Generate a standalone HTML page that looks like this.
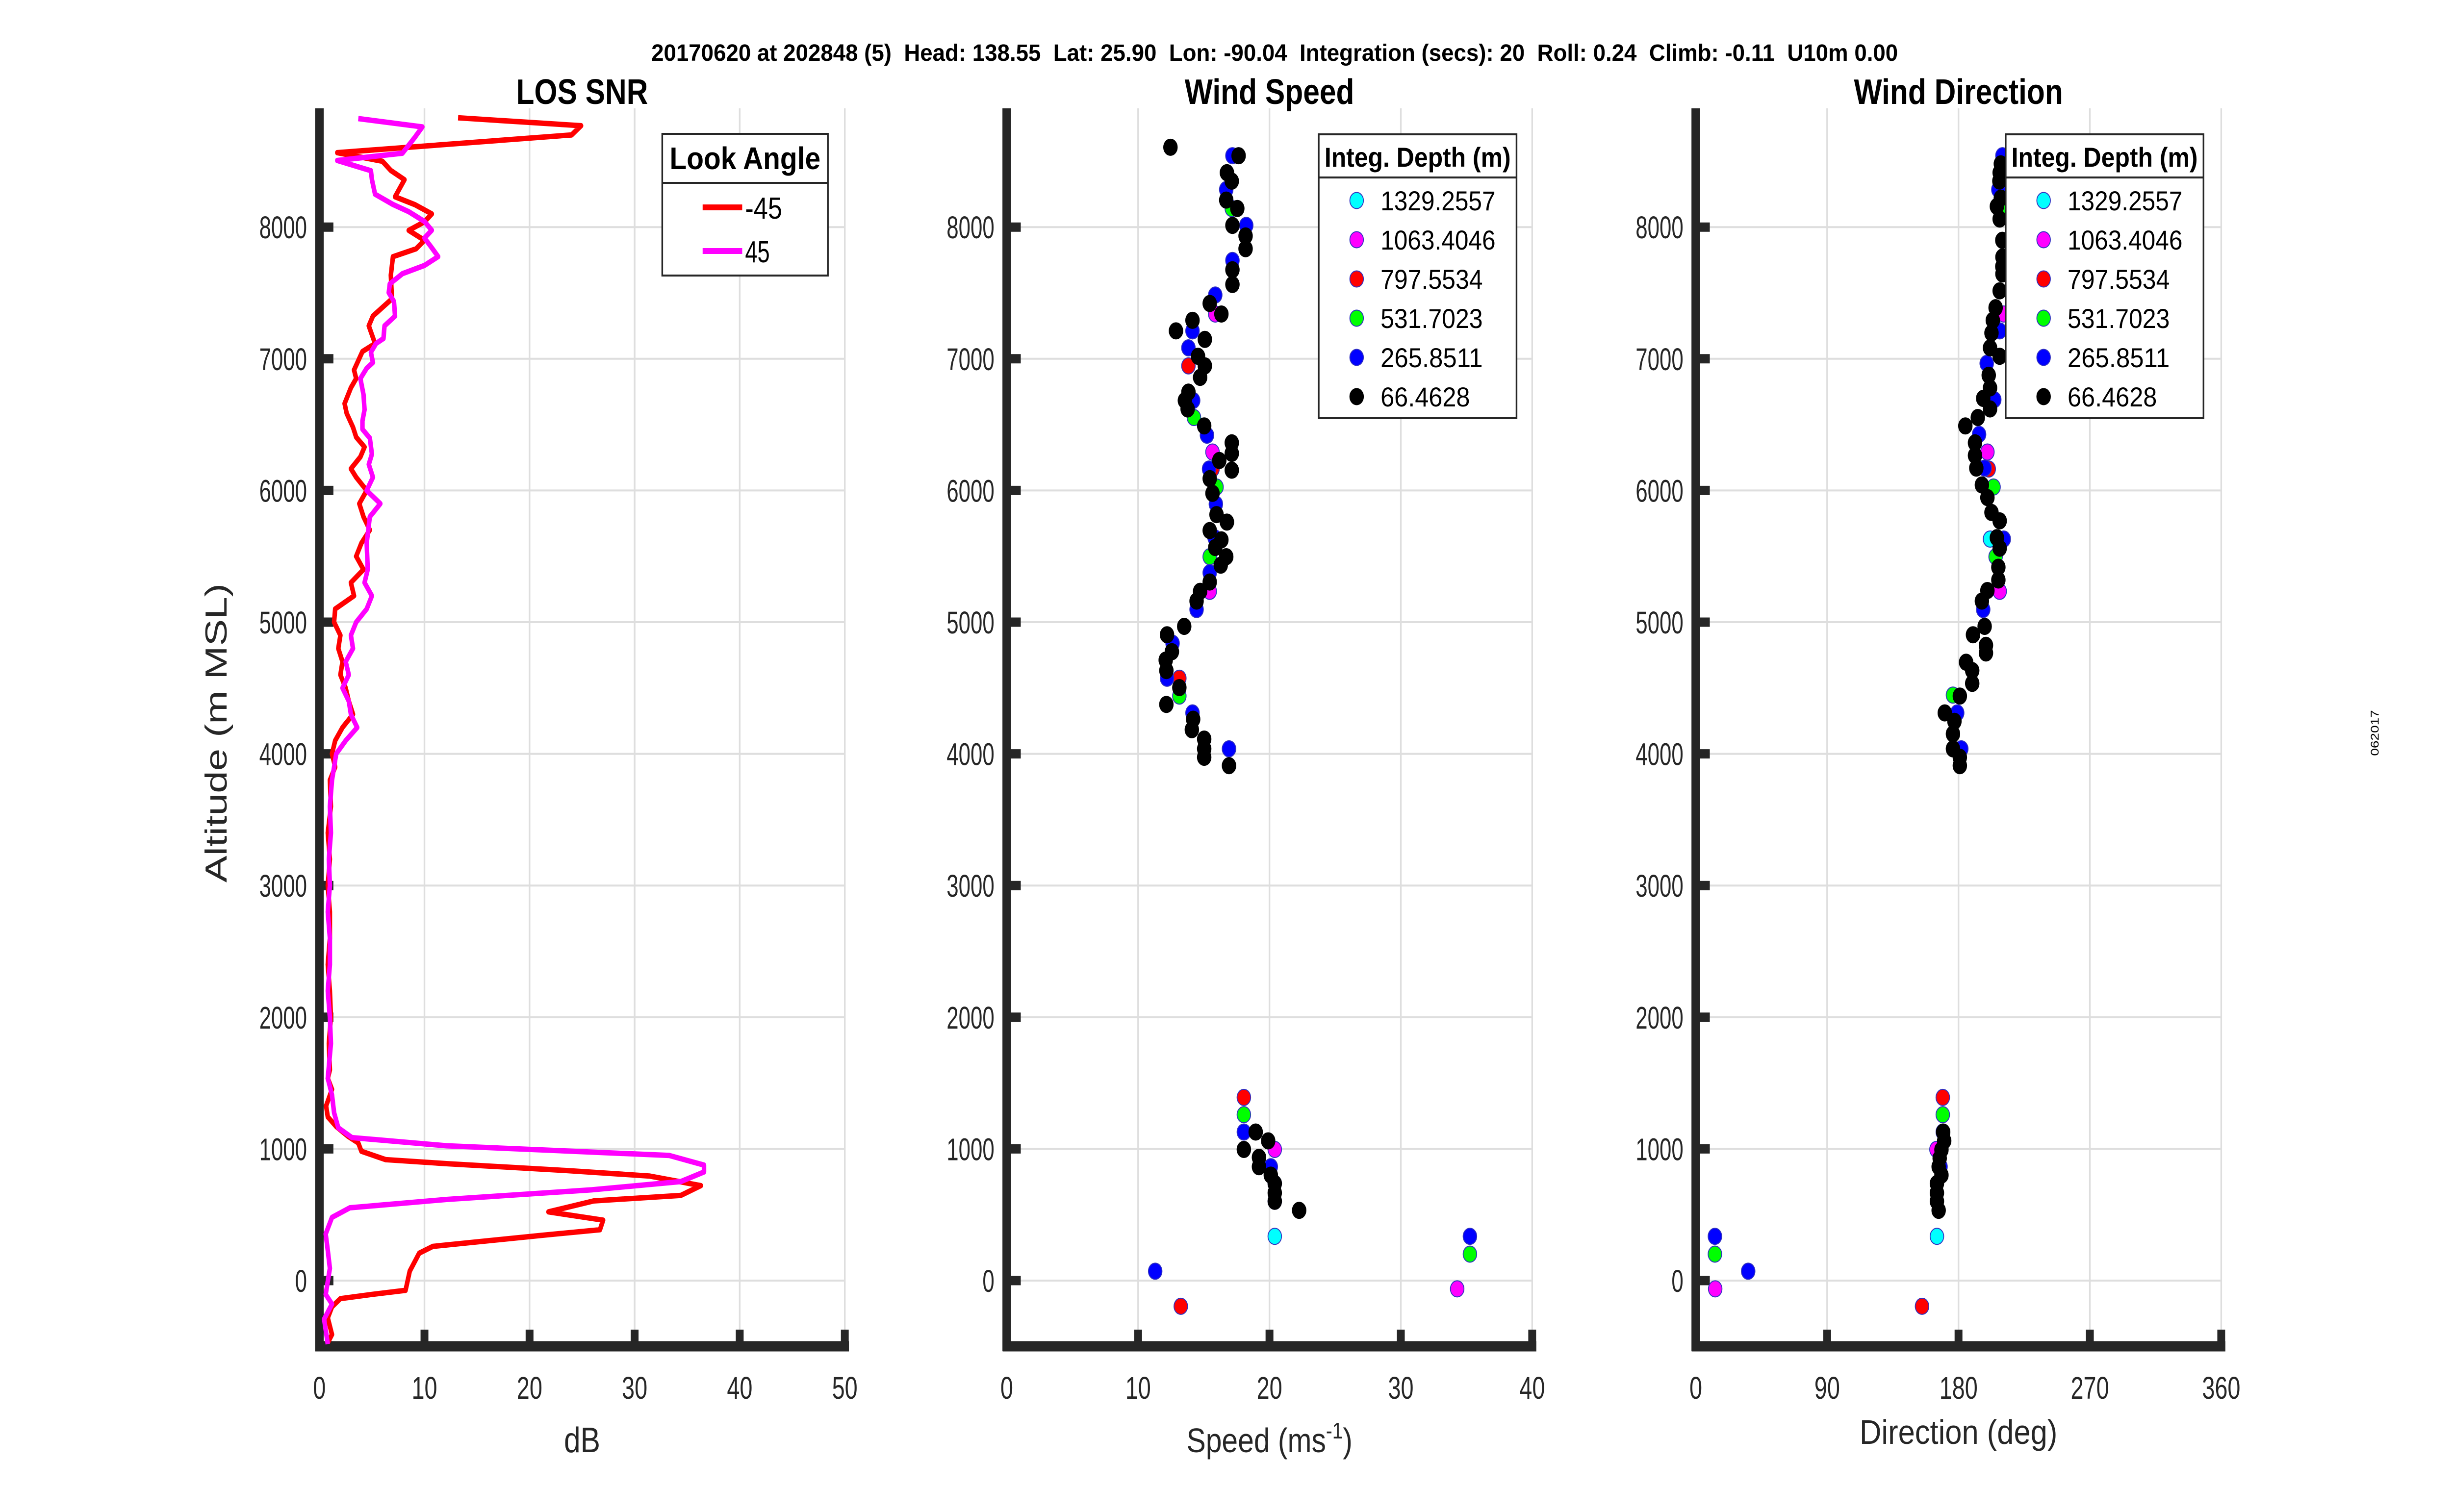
<!DOCTYPE html>
<html><head><meta charset="utf-8"><style>
html,body{margin:0;padding:0;background:#fff;overflow:hidden;width:100%;height:100%;}
svg{display:block;width:100vw;height:100vh;font-family:"Liberation Sans",Arial,sans-serif;}
</style></head><body>
<svg id="fig" xmlns="http://www.w3.org/2000/svg" viewBox="0 0 5950 3084" preserveAspectRatio="none">
<rect x="0" y="0" width="5950" height="3084" fill="#fff"/>
<text x="3093" y="124" text-anchor="middle" font-size="48" font-weight="bold" textLength="3025" lengthAdjust="spacingAndGlyphs" xml:space="preserve">20170620 at 202848 (5)  Head: 138.55  Lat: 25.90  Lon: -90.04  Integration (secs): 20  Roll: 0.24  Climb: -0.11  U10m 0.00</text>
<text transform="translate(5772,1495) rotate(-90)" text-anchor="middle" font-size="28">062017</text>
<g id="layer"></g>
</svg>
<script>
// ---- LOS SNR data ----
const snrRedAlt = [8830,8770,8700,8565,8500,8430,8360,8230,8170,8100,8040,7975,7900,7835,7775,7635,7455,7325,7250,7115,7055,6915,6850,6780,6660,6585,6480,6405,6330,6255,6165,6100,6000,5900,5800,5700,5600,5500,5400,5300,5200,5100,5000,4900,4800,4700,4600,4500,4400,4300,4200,4100,4000,3900,3800,3600,3400,3200,3000,2800,2600,2400,2200,2000,1800,1600,1536,1452,1327,1243,1170,1097,1045,982,919,888,836,794,721,647,605,522,459,386,344,260,208,72,-74,-105,-137,-199,-283,-409,-472];
const snrRedDb = [13.2,24.9,24.0,1.7,6.0,6.8,8.1,7.2,9.1,10.7,10.0,8.5,10.0,9.2,7.0,6.8,6.9,5.1,4.7,5.3,4.1,3.3,3.5,3.0,2.4,2.6,3.2,3.5,4.3,3.9,3.0,3.5,4.5,3.8,4.2,4.8,4.0,3.5,4.2,3.0,3.3,1.5,1.4,2.0,1.8,2.2,2.0,2.5,2.8,3.2,2.2,1.5,1.2,1.5,1.0,1.1,0.8,1.0,0.8,1.0,1.0,0.8,1.0,1.1,0.9,1.0,0.8,1.2,0.64,0.8,1.6,2.7,3.7,4.0,6.3,12.1,23.5,31.4,36.3,34.4,26.1,21.8,27.0,26.7,21.2,10.8,9.5,8.6,8.2,5.0,2.0,1.2,0.8,1.2,0.8];
const snrMagAlt = [8824,8761,8683,8561,8506,8428,8361,8250,8172,8117,8043,7976,7917,7843,7776,7709,7646,7569,7502,7435,7324,7250,7154,7117,7050,6972,6928,6850,6728,6613,6528,6465,6398,6276,6198,6100,6000,5900,5800,5600,5400,5300,5200,5100,5000,4900,4800,4700,4600,4500,4400,4300,4250,4200,4100,4000,3800,3600,3400,3200,3000,2800,2600,2400,2200,2000,1800,1536,1410,1275,1160,1086,1024,950,877,825,752,689,616,553,480,354,229,93,-105,-178,-293,-482];
const snrMagDb = [3.7,9.8,9.1,7.9,1.7,4.9,5.0,5.3,7.0,8.5,10.0,10.7,10.0,10.7,11.3,10.0,7.9,6.7,6.6,7.1,7.2,6.2,6.1,5.4,4.9,5.1,4.5,3.9,4.2,4.3,4.1,4.1,4.8,5.0,4.7,5.1,4.5,5.8,4.8,4.5,4.6,4.3,5.0,4.5,3.5,3.0,3.2,2.5,2.8,2.2,2.8,3.0,3.3,3.6,2.5,1.6,1.2,1.0,1.1,0.9,1.0,0.8,1.0,1.0,0.8,1.0,1.1,0.8,1.2,1.4,1.8,3.1,12.1,33.3,36.6,36.6,34.4,25.9,12.1,2.9,1.2,0.6,0.8,1.0,0.6,1.2,0.45,0.8];
// ---- Wind speed data (set: 0 cyan,1 magenta,2 red,3 green,4 blue,5 black) ----
const wsAlt = [8606,8542,8542,8413,8349,8285,8205,8141,8141,8013,8013,7933,7836,7747,7676,7564,7484,7420,7340,7340,7292,7212,7212,7147,7083,7019,6946,6946,6859,6747,6683,6683,6619,6554,6490,6420,6292,6362,6282,6228,6154,6163,6163,6090,6026,5978,5897,5817,5760,5696,5641,5625,5567,5497,5497,5433,5375,5305,5234,5234,5160,5096,4968,4904,4840,4776,4712,4632,4574,4574,4503,4439,4375,4311,4263,4183,4112,4038,3974,4038,3910,1391,1260,1128,1128,1061,996,996,936,865,865,801,737,737,666,602,602,533,336,71,-195,336,201,-63];
const wsSpd = [12.46,17.18,17.65,16.76,17.13,16.71,16.71,17.13,17.55,17.18,18.23,18.18,18.18,17.18,17.18,17.18,15.87,15.45,15.87,16.34,14.14,14.14,12.88,15.08,13.83,14.56,13.83,15.08,14.72,13.83,14.19,13.56,13.77,14.25,15.03,15.24,15.66,17.13,17.13,16.18,17.13,15.40,15.66,15.45,15.97,15.66,15.92,15.97,16.76,15.45,15.82,16.34,15.87,15.45,16.71,16.29,15.45,15.45,15.45,14.72,14.45,14.45,13.51,12.2,12.62,12.57,12.10,12.15,12.20,13.14,13.14,13.14,12.15,14.14,14.19,14.09,15.03,15.03,15.03,16.92,16.92,18.05,18.05,18.05,18.95,19.9,20.4,18.05,19.2,19.2,20.1,20.1,20.4,20.4,20.4,20.4,20.4,22.26,20.4,11.3,13.25,35.26,35.26,34.29];
const wsSet = [5,4,5,5,5,4,5,3,5,5,4,5,5,4,5,5,4,5,1,5,5,4,5,5,4,5,2,5,5,5,4,5,5,3,5,4,1,5,5,5,5,4,2,5,3,5,4,5,5,5,4,5,5,3,5,5,4,5,1,5,5,4,5,5,4,5,5,5,4,2,5,3,5,4,5,5,5,5,5,4,5,2,3,4,5,5,1,5,5,5,4,5,4,5,5,4,5,5,0,4,2,4,3,1];
// ---- Wind direction data ----
const wdAlt = [8542,8413,8285,8157,8125,8061,7772,7644,7516,7340,7388,7292,7212,7196,7083,6965,7019,6875,6779,6689,6699,6619,6554,6490,6426,6362,6292,6266,6163,6170,6170,6042,6026,5946,5833,5631,5769,5631,5641,5497,5561,5417,5320,5234,5240,5160,5096,4968,4904,4824,4766,4696,4632,4535,4446,4439,4311,4311,4247,4151,4038,4038,3974,3910,8480,8350,8220,7900,7700,1391,1260,1128,1128,1061,996,993,929,865,865,801,737,666,602,533,336,336,201,71,-63,-195];
const wdDir = [210.1,208.2,207.3,206.3,212,208.2,210.1,210.1,208.2,211,205.4,203.5,208.2,202.6,201.6,199.3,208.2,200.7,201.6,204.5,196.9,201.6,193.2,184.7,194.1,191.3,199.8,191.3,200.7,197.9,192.2,196.0,204,199.8,202.6,201.6,208.2,211,206.3,205.4,208.2,207.3,207.3,208.2,199.8,196.0,196.9,197.9,189.9,198.8,198.8,185.2,189.4,189.4,176.2,180.9,179.1,170.6,177.2,176.2,181.9,176.2,180.9,180.9,209,208,209,210,210,169.2,169.2,169.2,169.5,170.2,164.9,168.3,167.1,167.7,166.4,168.3,165.2,165.2,165.2,166.4,165.2,13.1,13.1,35.9,13.3,155.0];
const wdSet = [4,5,4,5,3,5,5,5,5,1,5,5,4,5,5,4,5,5,5,4,5,5,5,5,4,5,1,5,2,4,5,5,3,5,5,0,5,4,5,3,5,5,5,1,5,5,4,5,5,5,5,5,5,5,3,5,4,5,5,5,4,5,5,5,5,5,5,5,5,2,3,4,5,5,1,5,5,4,5,5,5,5,5,5,0,4,3,4,1,2];
// ---- legend / ticks ----
const depthLabels = ["1329.2557","1063.4046","797.5534","531.7023","265.8511","66.4628"];
const depthColors = ["#00ffff","#ff00ff","#ff0000","#00ff00","#0000ff","#000000"];
const altTicks = [0,1000,2000,3000,4000,5000,6000,7000,8000];
const snrTicks = [0,10,20,30,40,50];
const spdTicks = [0,10,20,30,40];
const dirTicks = [0,90,180,270,360];

const NS = "http://www.w3.org/2000/svg";
const layer = document.getElementById('layer');
function mk(tag, attrs, parent){
  const e = document.createElementNS(NS, tag);
  for (const k in attrs) e.setAttribute(k, attrs[k]);
  (parent||layer).appendChild(e);
  return e;
}
const Y0 = 2612, KY = 0.2686, YTOP = 221, YBOT = 2746, W = 1275;
function yA(a){ return Y0 - a*KY; }
const AX = "#262626";

function panel(x0, xmax, ticks, title, xlabel, name){
  const xs = v => x0 + v/xmax*W;
  const g = mk('g', {});
  
  
  ticks.forEach(t => { if (t>0){ const l = mk('line',{x1:xs(t),x2:xs(t),y1:YTOP,y2:YBOT,stroke:'#dedede','stroke-width':4},g);
      }});
  altTicks.forEach(t => { const l = mk('line',{x1:x0,x2:x0+W,y1:yA(t),y2:yA(t),stroke:'#dedede','stroke-width':4},g);
      });
  const ay = mk('line',{x1:x0,x2:x0,y1:YTOP,y2:YBOT+10,stroke:AX,'stroke-width':21},g);
   
  const ax = mk('line',{x1:x0-10,x2:x0+W+10,y1:YBOT,y2:YBOT,stroke:AX,'stroke-width':21},g);
   
  ticks.forEach(t => {
    const tk = mk('line',{x1:xs(t),x2:xs(t),y1:YBOT,y2:YBOT-34,stroke:AX,'stroke-width':19},g);
     
    const s = String(t);
    const tx = mk('text',{x:xs(t),y:2853,'text-anchor':'middle','font-size':64,fill:AX,textLength:s.length*31,lengthAdjust:'spacingAndGlyphs'},g);
    tx.textContent = s;
     
  });
  altTicks.forEach(t => {
    const tk = mk('line',{x1:x0,x2:x0+34,y1:yA(t),y2:yA(t),stroke:AX,'stroke-width':19},g);
     
    const s = String(t);
    const tx = mk('text',{x:x0-30,y:yA(t)+23,'text-anchor':'end','font-size':64,fill:AX,textLength:s.length*29,lengthAdjust:'spacingAndGlyphs'},g);
    tx.textContent = s;
     
  });
  const tt = mk('text',{x:x0+W/2,y:212,'text-anchor':'middle','font-size':72,'font-weight':'bold',fill:'#000'},g);
  tt.textContent = title;
   
  return {xs, g, x0};
}

// Panel 1
const p1 = panel(775, 50, snrTicks, 'LOS SNR', 'dB', 'snr');
const xl1 = mk('text',{x:775+W/2,y:2962,'text-anchor':'middle','font-size':72,fill:AX});
xl1.textContent = 'dB';
 
const yl = mk('text',{transform:'translate(550,1495) rotate(-90)','text-anchor':'middle','font-size':74,fill:AX,textLength:610,lengthAdjust:'spacingAndGlyphs'});
yl.textContent = 'Altitude (m MSL)';
 
function snrLine(alts, dbs, color, nm){
  const pts = alts.map((a,i)=> p1.xs(dbs[i]).toFixed(1)+','+yA(a).toFixed(1)).join(' ');
  const pl = mk('polyline',{points:pts,fill:'none',stroke:color,'stroke-width':11,'stroke-linejoin':'round'});
   
}
snrLine(snrRedAlt, snrRedDb, '#ff0000', 'snr-line-minus45');
snrLine(snrMagAlt, snrMagDb, '#ff00ff', 'snr-line-plus45');
const lg1 = mk('g',{});
 
mk('rect',{x:1607,y:273,width:402,height:289,fill:'#fff',stroke:'#262626','stroke-width':4},lg1);
mk('line',{x1:1607,x2:2009,y1:373,y2:373,stroke:'#262626','stroke-width':4},lg1);
const lh1 = mk('text',{x:1808,y:345,'text-anchor':'middle','font-size':64,'font-weight':'bold',textLength:366,lengthAdjust:'spacingAndGlyphs'},lg1);
lh1.textContent = 'Look Angle';
 
[['-45','#ff0000',423],['45','#ff00ff',512]].forEach(e => {
  const ln = mk('line',{x1:1705,x2:1801,y1:e[2],y2:e[2],stroke:e[1],'stroke-width':12},lg1);
   
  const t = mk('text',{x:1808,y:e[2]+23,'font-size':62,textLength:e[0].length*30,lengthAdjust:'spacingAndGlyphs'},lg1);
  t.textContent = e[0];
   
});

function scatter(p, alts, vals, sets, nm){
  for (let s=0; s<6; s++){
    alts.forEach((a,i)=>{
      if (sets[i]!==s) return;
      const c = mk('circle',{cx:p.xs(vals[i]).toFixed(1),cy:yA(a).toFixed(1),r:16.5,fill:depthColors[s],stroke:s===5?'#000':'#3030c0','stroke-width':2});
       
    });
  }
}
function depthLegend(x, nm){
  const g = mk('g',{});
   
  mk('rect',{x:x,y:274,width:480,height:579,fill:'#fff',stroke:'#262626','stroke-width':4},g);
  mk('line',{x1:x,x2:x+480,y1:362,y2:362,stroke:'#262626','stroke-width':4},g);
  const h = mk('text',{x:x+240,y:340,'text-anchor':'middle','font-size':56,'font-weight':'bold',textLength:452,lengthAdjust:'spacingAndGlyphs'},g);
  h.textContent = 'Integ. Depth (m)';
   
  depthLabels.forEach((lab,i)=>{
    const cy = 409 + i*80;
    const c = mk('circle',{cx:x+92,cy:cy,r:16.5,fill:depthColors[i],stroke:i===5?'#000':'#3030c0','stroke-width':2},g);
     
    const t = mk('text',{x:x+150,y:cy+20,'font-size':56,textLength:lab.length*31,lengthAdjust:'spacingAndGlyphs'},g);
    t.textContent = lab;
     
  });
}
const p2 = panel(2443, 40, spdTicks, 'Wind Speed', '', 'speed');
scatter(p2, wsAlt, wsSpd, wsSet, 'speed');
depthLegend(3200, 'speed-legend');
const xl2 = mk('text',{x:2443+W/2,y:2962,'text-anchor':'middle','font-size':70,fill:AX});
xl2.innerHTML = 'Speed (ms<tspan dy="-28" font-size="46">-1</tspan><tspan dy="28">)</tspan>';
 

const p3 = panel(4115, 360, dirTicks, 'Wind Direction', '', 'direction');
scatter(p3, wdAlt, wdDir, wdSet, 'direction');
depthLegend(4867, 'direction-legend');
const xl3 = mk('text',{x:4115+W/2,y:2945,'text-anchor':'middle','font-size':70,fill:AX,textLength:480,lengthAdjust:'spacingAndGlyphs'});
xl3.textContent = 'Direction (deg)';
 
</script>
</body></html>
